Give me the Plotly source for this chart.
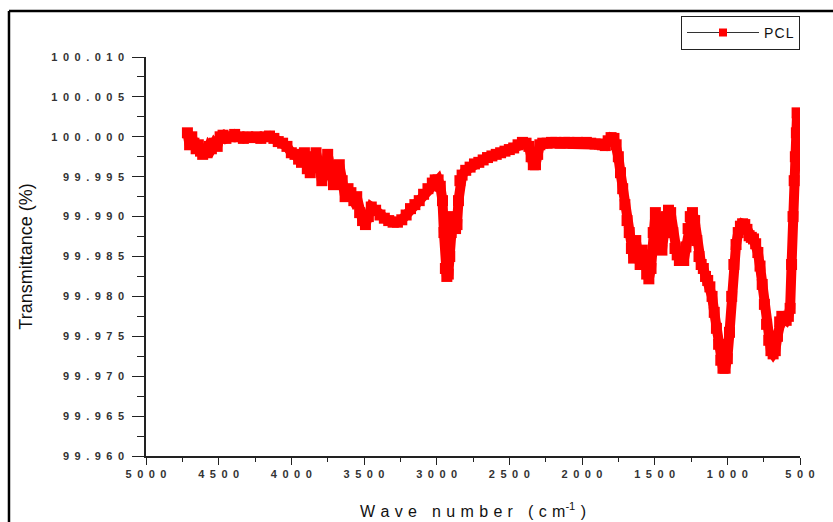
import plotly.graph_objects as go

# ---- data ----
wavenumber = [
    4715, 4700, 4685, 4670, 4655, 4640, 4625, 4610, 4595, 4580,
    4565, 4550, 4530, 4510, 4490, 4470, 4450, 4420, 4390, 4360,
    4330, 4300, 4270, 4240, 4210, 4180, 4150, 4120, 4090, 4060,
    4030, 4000, 3975, 3950, 3930, 3910, 3890, 3870, 3850, 3830,
    3810, 3790, 3770, 3750, 3730, 3710, 3690, 3670, 3650, 3630,
    3610, 3590, 3570, 3550, 3530, 3510, 3490, 3470, 3450, 3420,
    3390, 3360, 3330, 3300, 3270, 3240, 3210, 3180, 3150, 3120,
    3090, 3060, 3030, 3010, 2990, 2975, 2960, 2950, 2940, 2930,
    2920, 2910, 2900, 2890, 2880, 2870, 2860, 2850, 2840, 2825,
    2800, 2770, 2740, 2710, 2680, 2650, 2620, 2590, 2560, 2530,
    2500, 2470, 2440, 2410, 2385, 2365, 2350, 2335, 2320, 2305,
    2290, 2270, 2240, 2210, 2180, 2150, 2120, 2090, 2060, 2030,
    2000, 1970, 1940, 1910, 1880, 1860, 1840, 1820, 1800, 1780,
    1765, 1750, 1735, 1720, 1705, 1690, 1675, 1660, 1645, 1630,
    1615, 1600, 1585, 1570, 1555, 1540, 1525, 1510, 1495, 1480,
    1465, 1450, 1435, 1420, 1405, 1390, 1375, 1360, 1345, 1330,
    1315, 1300, 1285, 1270, 1255, 1240, 1225, 1210, 1195, 1180,
    1165, 1150, 1135, 1120, 1105, 1090, 1075, 1060, 1045, 1030,
    1015, 1000, 985, 970, 955, 940, 925, 910, 895, 880,
    865, 850, 835, 820, 805, 790, 775, 760, 745, 730,
    715, 700, 685, 670, 655, 640, 625, 610, 595, 580,
    568, 558, 548, 540, 532, 525, 520,
]

transmittance = [
    100.0005, 99.9990, 100.0000, 99.9992, 99.9985, 99.9990, 99.9982, 99.9978, 99.9985, 99.9980,
    99.9988, 99.9985, 99.9992, 99.9988, 100.0000, 100.0002, 99.9998, 100.0000, 100.0003, 100.0000,
    99.9998, 100.0000, 99.9999, 100.0000, 99.9998, 100.0000, 100.0001, 99.9998, 99.9994, 99.9992,
    99.9988, 99.9980, 99.9978, 99.9972, 99.9968, 99.9980, 99.9960, 99.9955, 99.9975, 99.9980,
    99.9965, 99.9945, 99.9955, 99.9978, 99.9960, 99.9940, 99.9950, 99.9965, 99.9945, 99.9925,
    99.9935, 99.9930, 99.9920, 99.9925, 99.9905, 99.9895, 99.9890, 99.9900, 99.9912, 99.9908,
    99.9902, 99.9898, 99.9895, 99.9893, 99.9893, 99.9896, 99.9902, 99.9910, 99.9915, 99.9920,
    99.9928, 99.9935, 99.9942, 99.9946, 99.9946, 99.9938, 99.9920, 99.9880, 99.9835, 99.9825,
    99.9828, 99.9850, 99.9880, 99.9900, 99.9895, 99.9885, 99.9890, 99.9920, 99.9945, 99.9952,
    99.9958, 99.9962, 99.9966, 99.9968, 99.9971, 99.9974, 99.9976, 99.9978, 99.9980, 99.9982,
    99.9984, 99.9986, 99.9990, 99.9993, 99.9992, 99.9988, 99.9975, 99.9965, 99.9965, 99.9978,
    99.9990, 99.9992, 99.9992, 99.9993, 99.9993, 99.9992, 99.9993, 99.9993, 99.9992, 99.9993,
    99.9992, 99.9993, 99.9992, 99.9991, 99.9991, 99.9990, 99.9989, 99.9995, 99.9999, 99.9998,
    99.9990, 99.9975, 99.9955, 99.9935, 99.9915, 99.9895, 99.9880, 99.9860, 99.9848, 99.9870,
    99.9855, 99.9840, 99.9858, 99.9845, 99.9828, 99.9822, 99.9835, 99.9880, 99.9905, 99.9895,
    99.9865, 99.9858, 99.9880, 99.9900, 99.9908, 99.9905, 99.9880, 99.9860, 99.9852, 99.9845,
    99.9850, 99.9845, 99.9862, 99.9885, 99.9900, 99.9905, 99.9895, 99.9870, 99.9850, 99.9840,
    99.9835, 99.9825, 99.9820, 99.9812, 99.9800, 99.9780, 99.9760, 99.9740, 99.9720, 99.9710,
    99.9710, 99.9722, 99.9755, 99.9800, 99.9840, 99.9865, 99.9880, 99.9888, 99.9891, 99.9890,
    99.9884, 99.9876, 99.9874, 99.9872, 99.9866, 99.9855, 99.9838, 99.9815, 99.9790, 99.9765,
    99.9745, 99.9732, 99.9728, 99.9732, 99.9750, 99.9768, 99.9775, 99.9772, 99.9770, 99.9775,
    99.9785, 99.9840, 99.9900, 99.9945, 99.9975, 100.0005, 100.0030,
]
assert len(wavenumber) == len(transmittance)

series_name = "PCL"
x_tick_values = [5000, 4500, 4000, 3500, 3000, 2500, 2000, 1500, 1000, 500]
x_tick_labels = ["5000", "4500", "4000", "3500", "3000", "2500", "2000", "1500", "1000", "500"]
x_minor_values = [4750, 4250, 3750, 3250, 2750, 2250, 1750, 1250, 750]
y_tick_values = [99.960, 99.965, 99.970, 99.975, 99.980, 99.985, 99.990, 99.995, 100.000, 100.005, 100.010]
y_tick_labels = ["99.960", "99.965", "99.970", "99.975", "99.980", "99.985", "99.990",
                 "99.995", "100.000", "100.005", "100.010"]
y_minor_values = [99.9625, 99.9675, 99.9725, 99.9775, 99.9825, 99.9875, 99.9925, 99.9975, 100.0025, 100.0075]
x_title_text = "Wave number (cm"
y_title_text = "Transmittance (%)"

EN = "\u2002"   # wide letter spacing, as in the horizontally stretched original
TH = "\u2004"
HAIR = "\u200a"
FONT = "Liberation Sans, Arial, sans-serif"


def spaced(s, sep):
    return sep.join(list(s))


fig = go.Figure()
# spectrum (thick red band of square symbols)
fig.add_trace(go.Scatter(
    x=wavenumber, y=transmittance, name=series_name, showlegend=False,
    mode="lines+markers",
    line=dict(color="#ff0000", width=10),
    marker=dict(symbol="square", size=11, color="#ff0000", line=dict(width=0)),
))
# legend entry styled like the original (thin dark line with a red square)
fig.add_trace(go.Scatter(
    x=[None], y=[None], name=spaced(series_name, HAIR),
    mode="lines+markers",
    line=dict(color="#333333", width=1),
    marker=dict(symbol="square", size=8, color="#ff0000", line=dict(width=0)),
))

tick_font = dict(family=FONT, size=11, color="#333333", weight="bold")

fig.update_layout(
    width=833, height=522,
    margin=dict(l=146, r=33, t=57, b=66, autoexpand=False),
    paper_bgcolor="white", plot_bgcolor="white",
    showlegend=True,
    legend=dict(
        x=1.0, y=1.103, xanchor="right", yanchor="top",
        bgcolor="white", bordercolor="#222", borderwidth=1,
        font=dict(family=FONT, size=14, color="#111"),
        itemwidth=72,
        tracegroupgap=0,
    ),
    xaxis=dict(
        range=[5000, 500], autorange=False, automargin=False,
        tickmode="array", tickvals=x_tick_values, ticktext=[spaced(t, EN) for t in x_tick_labels],
        ticks="outside", ticklen=7, tickwidth=1, tickcolor="#222",
        minor=dict(tickmode="array", tickvals=x_minor_values, ticks="outside", ticklen=4,
                   tickwidth=1, tickcolor="#222"),
        showline=True, linecolor="#222", linewidth=1.5,
        showgrid=False, zeroline=False, mirror=False,
        tickfont=tick_font,
        title=dict(text=spaced(x_title_text, TH) + "<sup>-1</sup>" + TH + ")",
                   font=dict(family=FONT, size=16, color="#111"),
                   standoff=27),
    ),
    yaxis=dict(
        range=[99.960, 100.010], autorange=False, automargin=False,
        tickmode="array", tickvals=y_tick_values, ticktext=[spaced(t, EN) for t in y_tick_labels],
        ticks="outside", ticklen=12, tickwidth=1, tickcolor="#222",
        minor=dict(tickmode="array", tickvals=y_minor_values, ticks="outside", ticklen=7,
                   tickwidth=1, tickcolor="#222"),
        showline=True, linecolor="#222", linewidth=1.5,
        showgrid=False, zeroline=False, mirror=False,
        tickfont=tick_font,
        ticklabelstandoff=6,
        title=dict(text=y_title_text,
                   font=dict(family=FONT, size=18, color="#111"),
                   standoff=14),
    ),
    shapes=[
        dict(type="line", xref="paper", yref="paper", x0=-0.2095, x1=1.06, y0=1.1153, y1=1.1153,
             line=dict(color="black", width=2.5)),
        dict(type="line", xref="paper", yref="paper", x0=-0.2095, x1=-0.2095, y0=1.1153, y1=-0.17,
             line=dict(color="black", width=2.5)),
    ],
)

fig.write_html("out.html")
